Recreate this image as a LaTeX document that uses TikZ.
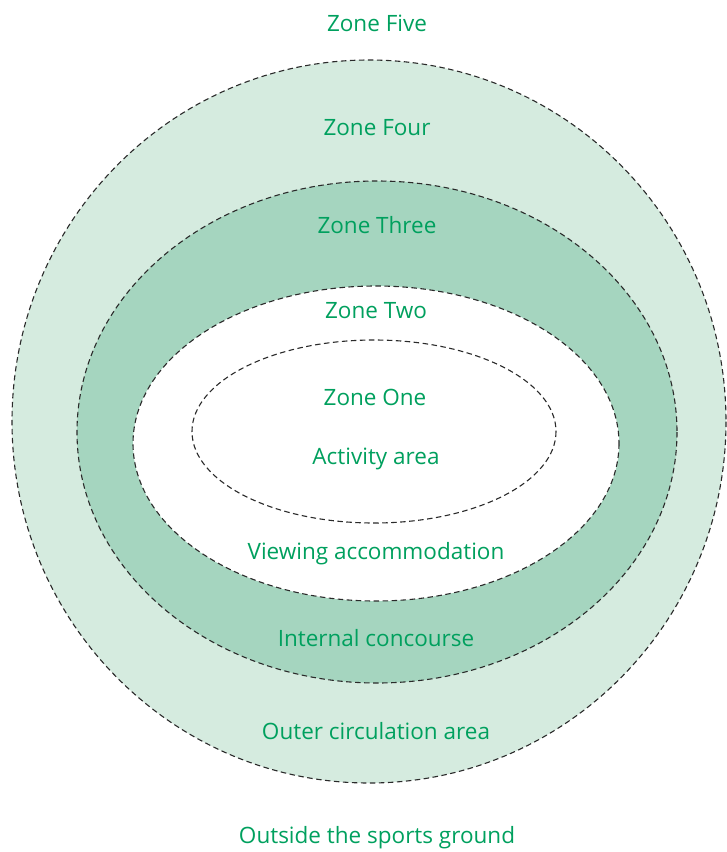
\documentclass[tikz,border=0pt]{standalone}
\usepackage{fontspec}
\setmainfont{Open Sans}
\usetikzlibrary{positioning}

\definecolor{zonelight}{HTML}{D5EBDF}
\definecolor{zonemid}{HTML}{A5D5BF}
\definecolor{zonetext}{HTML}{00A05E}
\definecolor{zoneline}{HTML}{2A2A2A}

\tikzset{
    zoneline/.style={draw=zoneline, line width=1.1pt, dash pattern=on 5.5pt off 3.5pt},
    zonelabel/.style={text=zonetext, font=\fontsize{22.5}{27}\selectfont, inner sep=0pt, anchor=base}
}

\begin{document}
\begin{tikzpicture}[x=1pt,y=-1pt]
            \useasboundingbox (0,0) rectangle (727,852);
            % Zone four
            \fill[zonelight] (369,421.5) ellipse [x radius=357, y radius=361.5];
            \draw[zoneline] (369,421.5) ellipse [x radius=357, y radius=361.5];
            % Zone three
            \fill[zonemid] (377,432) ellipse [x radius=300, y radius=251];
            \draw[zoneline] (377,432) ellipse [x radius=300, y radius=251];
            % Zone two
            \fill[white] (376,443.5) ellipse [x radius=243, y radius=157.5];
            \draw[zoneline] (376,443.5) ellipse [x radius=243, y radius=157.5];
            % Zone one
            \draw[zoneline] (374,431.5) ellipse [x radius=182, y radius=91.5];

            % Labels
            \node[zonelabel] (zonefive) at (377,31) {Zone Five};
            \node[zonelabel] (zonefour) at (377,135) {Zone Four};
            \node[zonelabel] (zonethree) at (377,233) {Zone Three};
            \node[zonelabel] (zonetwo) at (376,318) {Zone Two};
            \node[zonelabel] (zoneone) at (375,405) {Zone One};
            \node[zonelabel] (activity) at (376,464) {Activity area};
            \node[zonelabel] (viewing) at (376,559) {Viewing accommodation};
            \node[zonelabel] (concourse) at (376,646) {Internal concourse};
            \node[zonelabel] (outer) at (376,739) {Outer circulation area};
            \node[zonelabel] (outside) at (377,843) {Outside the sports ground};

        \end{tikzpicture}
\end{document}
